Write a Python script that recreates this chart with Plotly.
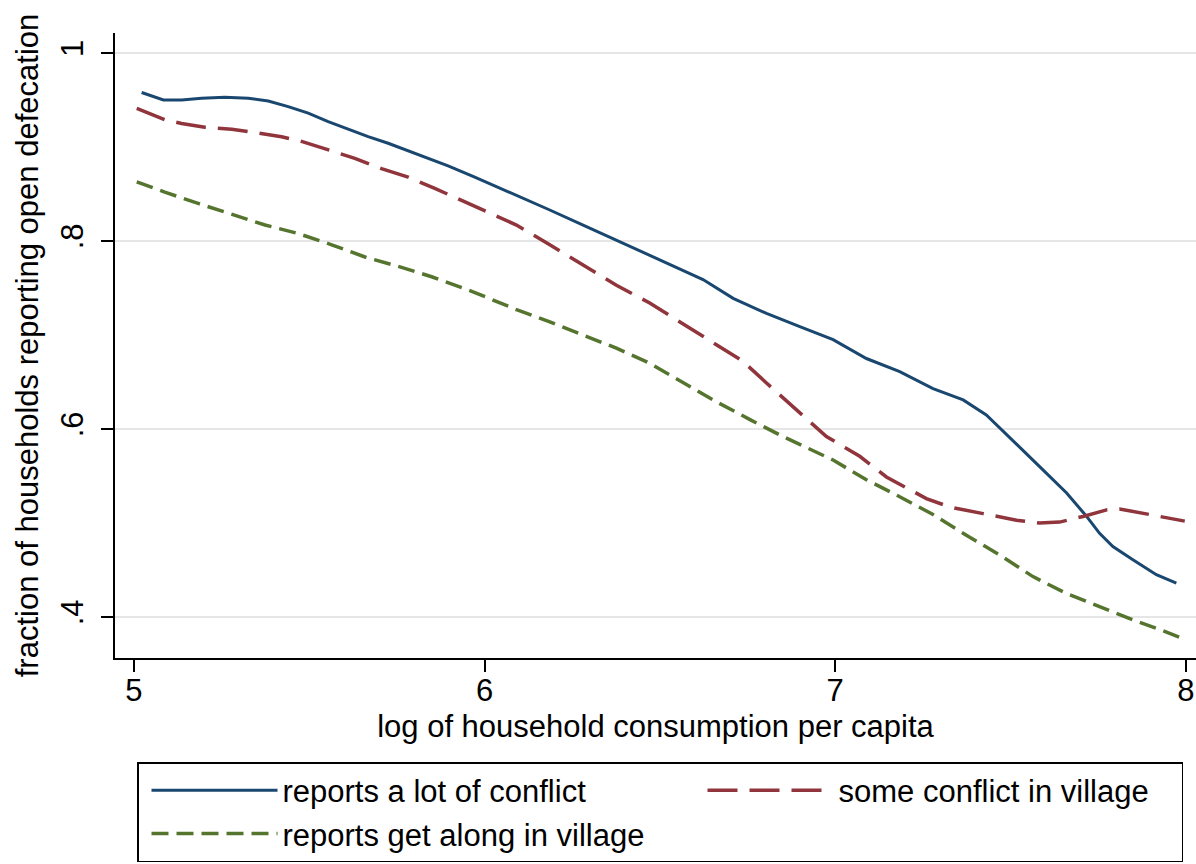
import plotly.graph_objects as go

# ---- data ----
conflict_x = [5.022, 5.084, 5.136, 5.193, 5.259, 5.326, 5.383, 5.440, 5.497, 5.554, 5.611, 5.668,
              5.725, 5.782, 5.839, 5.896, 5.972, 6.091, 6.186, 6.281, 6.376, 6.471, 6.566, 6.623,
              6.709, 6.804, 6.899, 6.994, 7.089, 7.184, 7.279, 7.365, 7.431, 7.507, 7.583, 7.660,
              7.717, 7.754, 7.792, 7.849, 7.916, 7.973]
conflict_y = [0.958, 0.950, 0.950, 0.952, 0.953, 0.952, 0.949, 0.943, 0.936, 0.927, 0.919, 0.911,
              0.904, 0.896, 0.888, 0.880, 0.868, 0.849, 0.833, 0.817, 0.801, 0.785, 0.769, 0.759,
              0.739, 0.723, 0.709, 0.695, 0.675, 0.661, 0.643, 0.631, 0.615, 0.588, 0.560, 0.532,
              0.507, 0.489, 0.475, 0.461, 0.445, 0.436]

some_x = [5.008, 5.088, 5.136, 5.202, 5.279, 5.354, 5.421, 5.478, 5.554, 5.630, 5.706, 5.782,
          5.858, 5.967, 6.091, 6.186, 6.281, 6.376, 6.471, 6.566, 6.642, 6.737, 6.804, 6.899,
          6.975, 7.070, 7.146, 7.260, 7.327, 7.422, 7.517, 7.583, 7.640, 7.707, 7.774, 7.811,
          7.897, 7.997]
some_y = [0.941, 0.929, 0.925, 0.921, 0.919, 0.915, 0.911, 0.906, 0.897, 0.888, 0.877, 0.868,
          0.856, 0.838, 0.817, 0.796, 0.775, 0.753, 0.734, 0.712, 0.695, 0.672, 0.649, 0.617,
          0.592, 0.571, 0.549, 0.526, 0.517, 0.510, 0.503, 0.500, 0.501, 0.507, 0.514, 0.515,
          0.509, 0.502]

along_x = [5.008, 5.088, 5.183, 5.279, 5.374, 5.468, 5.564, 5.659, 5.754, 5.849, 5.967, 6.091,
           6.186, 6.281, 6.376, 6.471, 6.566, 6.661, 6.757, 6.851, 6.994, 7.089, 7.184, 7.279,
           7.374, 7.469, 7.564, 7.660, 7.754, 7.849, 7.945, 7.997]
along_y = [0.863, 0.852, 0.840, 0.828, 0.817, 0.808, 0.796, 0.783, 0.773, 0.762, 0.746, 0.727,
           0.714, 0.700, 0.686, 0.670, 0.650, 0.629, 0.610, 0.592, 0.567, 0.546, 0.528, 0.509,
           0.487, 0.466, 0.443, 0.425, 0.411, 0.397, 0.384, 0.376]

series_names = ["reports a lot of conflict", "some conflict in village", "reports get along in village"]
x_ticks = [5, 6, 7, 8]
y_ticks = [0.4, 0.6, 0.8, 1.0]
y_ticktext = [".4", ".6", ".8", "1"]

FONT = "Liberation Sans, Arial, sans-serif"
W, H = 1196, 864

fig = go.Figure()
fig.add_trace(go.Scatter(x=conflict_x, y=conflict_y, mode="lines", name=series_names[0],
                         line=dict(color="#1a476f", width=3), legendwidth=407))
fig.add_trace(go.Scatter(x=some_x, y=some_y, mode="lines", name=series_names[1],
                         line=dict(color="#90353b", width=3.5, dash="30px,12px"), legendwidth=338))
fig.add_trace(go.Scatter(x=along_x, y=along_y, mode="lines", name=series_names[2],
                         line=dict(color="#55752f", width=3.5, dash="17px,8px"), legendwidth=400))

fig.update_layout(
    width=W, height=H,
    margin=dict(l=0, r=0, t=33, b=206),
    paper_bgcolor="white", plot_bgcolor="white",
    font=dict(family=FONT, size=31, color="black"),
    showlegend=True,
    legend=dict(
        orientation="h", xref="container", yref="container",
        x=137 / W, xanchor="left", y=1 - 762 / H, yanchor="top",
        bordercolor="black", borderwidth=1.5, bgcolor="white",
        itemwidth=126, entrywidthmode="pixels", indentation=8,
        font=dict(family=FONT, size=31, color="black"),
        traceorder="normal",
    ),
    xaxis=dict(
        domain=[115 / W, 1.0],
        range=[4.946, 8.029],
        tickvals=x_ticks, ticktext=[str(v) for v in x_ticks],
        showline=True, linecolor="black", linewidth=2,
        ticks="outside", ticklen=12, tickwidth=2, tickcolor="black",
        showgrid=False, zeroline=False,
        title=dict(text="log of household consumption per capita", font=dict(size=31), standoff=8),
        tickfont=dict(size=31),
    ),
    yaxis=dict(
        range=[0.3564, 1.0213],
        tickvals=y_ticks, ticktext=y_ticktext, tickangle=-90,
        showline=True, linecolor="black", linewidth=2,
        ticks="outside", ticklen=12, tickwidth=2, tickcolor="black",
        showgrid=True, gridcolor="#e6e6e6", gridwidth=1.5, zeroline=False,
        ticklabelstandoff=6,
        title=dict(text="fraction of households reporting open defecation", font=dict(size=31), standoff=7),
        tickfont=dict(size=31),
    ),
)

try:
    fig.update_xaxes(ticklabelstandoff=-8)
except Exception:
    pass

fig.write_html(
    "out.html",
    config={"displayModeBar": False},
    post_script="document.body.style.margin='0px';document.body.style.overflow='hidden';",
)
